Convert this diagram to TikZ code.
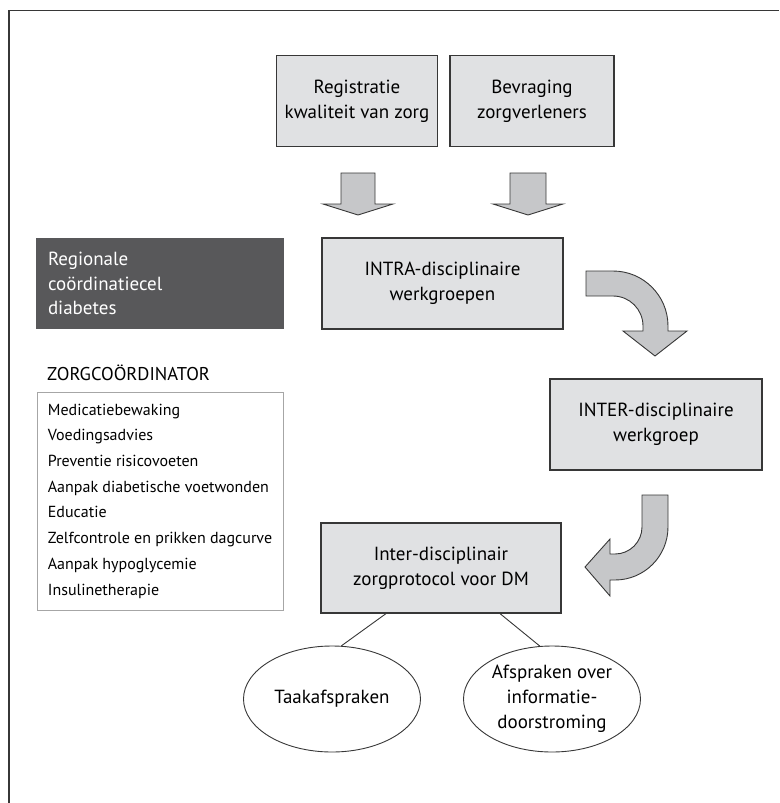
\documentclass[tikz,border=0pt]{standalone}
\usepackage{fontspec}
\setmainfont{PT Sans}
\usepackage{xcolor}
\definecolor{BoxFill}{RGB}{224,225,227}
\definecolor{ArrowFill}{RGB}{198,199,201}
\definecolor{DarkFill}{RGB}{88,88,90}
\definecolor{LineCol}{RGB}{55,55,55}
\usetikzlibrary{shapes.geometric}
\tikzstyle{Box}=[draw=LineCol,fill=BoxFill,line width=1.2pt,align=center,
inner sep=0pt,font=\fontsize{19}{25}\selectfont]
\tikzstyle{DarkBox}=[fill=DarkFill,text=white,align=left,inner sep=12pt,
font=\fontsize{19}{24.5}\selectfont]
\tikzstyle{ListBox}=[draw=black!35,line width=1pt,align=left,inner sep=7pt,
font=\fontsize{16}{25.7}\selectfont]
\tikzstyle{Bubble}=[ellipse,draw=LineCol,line width=0.9pt,align=center,
inner sep=0pt,minimum width=177pt,minimum height=106pt,
font=\fontsize{19}{25}\selectfont]
\tikzstyle{BigArrow}=[draw=LineCol,fill=ArrowFill,line width=0.9pt]
\tikzstyle{Edge}=[draw=LineCol,line width=0.9pt]
\tikzstyle{Frame}=[draw=LineCol,line width=1.8pt]

\begin{document}
\begin{tikzpicture}[x=1pt,y=-1pt]
            \useasboundingbox (0,0) rectangle (779,803);
            \draw[Frame](9,803)--(9,10.5)--(779,10.5);
            % top row
            \node[Box,minimum width=161pt,minimum height=91pt](reg)at(357,101)
                {Registratie\\kwaliteit van zorg};
            \node[Box,minimum width=164pt,minimum height=91pt](bev)at(532,101)
                {Bevraging\\zorgverleners};
            % main chain
            \node[Box,minimum width=241pt,minimum height=91pt](intra)at(442.5,283.5)
                {INTRA-disciplinaire\\werkgroepen};
            \node[Box,minimum width=212pt,minimum height=91pt](inter)at(656,424.5)
                {INTER-disciplinaire\\werkgroep};
            \node[Box,minimum width=240pt,minimum height=90pt](proto)at(441,568)
                {Inter-disciplinair\\zorgprotocol voor DM};
            \node[Bubble](taak)at(332,699){Taakafspraken};
            \node[Bubble](afspr)at(552,699)
                {Afspraken over\\informatie-\\doorstroming};
            % left column
            \node[DarkBox,text width=224pt,minimum height=91pt](cel)at(160,283.5)
                {Regionale\\coördinatiecel\\diabetes};
            \node[anchor=west,inner sep=0pt,font=\fontsize{18.5}{22}\selectfont](zc)
                at(47,373){ZORGCOÖRDINATOR};
            \node[ListBox,minimum width=246pt,minimum height=218pt](taken)at(160,501)
                {Medicatiebewaking\\Voedingsadvies\\Preventie risicovoeten\\
                Aanpak diabetische voetwonden\\Educatie\\
                Zelfcontrole en prikken dagcurve\\Aanpak hypoglycemie\\
                Insulinetherapie};
            % block arrows
            \draw[BigArrow](341,173)--(375,173)--(375,204)--(393,204)--(358,215)
                --(323,204)--(341,204)--cycle;
            \draw[BigArrow](510,173)--(546,173)--(546,204)--(563,204)--(528,215)
                --(493,204)--(510,204)--cycle;
            \draw[BigArrow](586,271)--(613,271)arc[start angle=90,end angle=0,radius=55pt]
                --(668,331)--(687,331)--(655,356)--(623,331)--(643,331)--(643,326)
                arc[start angle=0,end angle=90,radius=30pt]--(586,296)--cycle;
            \draw[BigArrow](642,495)--(668,495)--(668,527)
                arc[start angle=0,end angle=-90,radius=53pt]--(610,580)--(610,596)
                --(585,567)--(610,539)--(610,554)--(615,554)
                arc[start angle=-90,end angle=0,radius=27pt]--cycle;
            % protocol parts
            \draw[Edge]([xshift=-55pt]proto.south)--(taak.80);
            \draw[Edge]([xshift=59pt]proto.south)--(afspr.103);
        \end{tikzpicture}
\end{document}
